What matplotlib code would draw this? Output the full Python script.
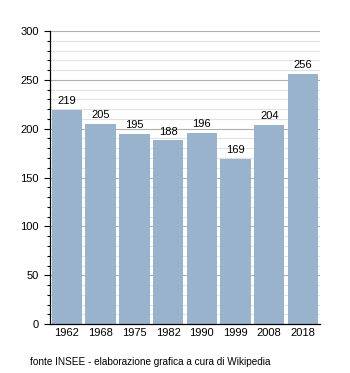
import matplotlib.pyplot as plt
from matplotlib.ticker import MultipleLocator

plt.rcParams['font.family'] = ['Liberation Sans', 'DejaVu Sans']

years = ['1962', '1968', '1975', '1982', '1990', '1999', '2008', '2018']
population = [219, 205, 195, 188, 196, 169, 204, 256]


def main():
    fig = plt.figure(figsize=(3.5, 3.73), dpi=100)
    ax = fig.add_axes([0.143, 0.131, 0.771, 0.786])

    x = range(len(years))
    ax.bar(x, population, width=0.9, color='#9ab3cc', zorder=2)
    for i, v in zip(x, population):
        ax.text(i, v + 4, str(v), ha='center', va='bottom', fontsize=8, color='black')

    ax.set_xlim(-0.5, len(years) - 0.5)
    ax.set_ylim(0, 300)
    ax.set_xticks(list(x))
    ax.set_xticklabels(years, fontsize=8)
    ax.yaxis.set_major_locator(MultipleLocator(50))
    ax.yaxis.set_minor_locator(MultipleLocator(10))
    ax.tick_params(axis='y', which='major', length=4, width=0.8, labelsize=8, pad=4)
    ax.tick_params(axis='y', which='minor', length=2, width=0.8)
    ax.tick_params(axis='x', length=0, labelsize=8, pad=3)

    ax.grid(axis='y', which='major', color='#b0b0b0', linewidth=0.8, zorder=0)
    ax.grid(axis='y', which='minor', color='#e2e2e2', linewidth=0.8, zorder=0)
    ax.set_axisbelow(True)

    for side in ('top', 'right'):
        ax.spines[side].set_visible(False)
    ax.spines['left'].set_linewidth(0.9)
    ax.spines['bottom'].set_linewidth(0.9)

    fig.text(30 / 350, 1 - 362 / 373, 'fonte INSEE - elaborazione grafica a cura di Wikipedia',
             fontsize=7.2, va='center', ha='left')

    fig.savefig('out.png', dpi=100)


if __name__ == "__main__":
    main()
